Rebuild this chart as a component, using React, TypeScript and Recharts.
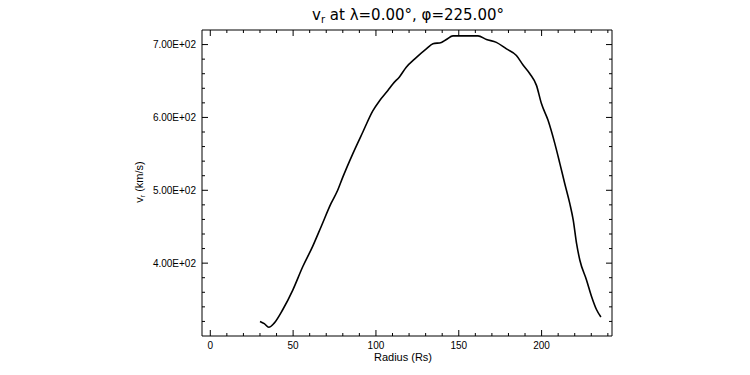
import { LineChart, Line, XAxis, YAxis } from 'recharts'

// radius (Rs) and radial speed (km/s)
const radius = [
  30, 32.6, 35.3, 38.7, 43.7, 49.8, 55.8, 61.8, 66.9, 72.9, 76.9, 80, 86, 92.1, 98.1,
  102.2, 107.2, 110.2, 114.3, 118.3, 123.3, 130.4, 134.4, 139.5, 142.5, 146.5, 161.6,
  166.7, 172.7, 178.8, 184.8, 188.8, 192.9, 196.9, 199.9, 203.9, 208, 211, 214, 217,
  219.1, 221.1, 223.1, 227.1, 230.2, 233.2, 235.8,
]
const vr = [
  320, 317, 312, 318, 336, 363, 395, 423, 450, 482, 500, 518, 550, 580, 609,
  623, 637, 646, 656, 669, 680, 694, 701, 703, 707, 712, 712,
  707, 703, 694, 685, 672, 660, 644, 619, 596, 564, 537, 509, 482,
  459, 427, 404, 377, 354, 336, 326,
]

const xTicks = [0, 10, 20, 30, 40, 50, 60, 70, 80, 90, 100, 110, 120, 130, 140, 150, 160, 170, 180, 190, 200, 210, 220, 230, 240]
const yTicks = [320, 340, 360, 380, 400, 420, 440, 460, 480, 500, 520, 540, 560, 580, 600, 620, 640, 660, 680, 700]

const data = radius.map((r, i) => ({ r, v: vr[i] }))

const tickFont = { fontFamily: '"Liberation Sans", Arial, sans-serif', fontSize: 10, fill: '#000' }

const fmtY = (v: number) => `${(v / 100).toFixed(2)}E+02`

function BottomTick({ x, y, payload }: any) {
  const major = payload.value % 50 === 0
  return (
    <g>
      <line x1={x} y1={y} x2={x} y2={y - (major ? 6 : 3)} stroke="#000" />
      {major && (
        <text x={x} y={y + 13} textAnchor="middle" {...tickFont}>
          {payload.value}
        </text>
      )}
    </g>
  )
}

function TopTick({ x, y, payload }: any) {
  const major = payload.value % 50 === 0
  return <line x1={x} y1={y} x2={x} y2={y + (major ? 6 : 3)} stroke="#000" />
}

function LeftTick({ x, y, payload }: any) {
  const major = payload.value % 100 === 0
  return (
    <g>
      <line x1={x} y1={y} x2={x + (major ? 6 : 3)} y2={y} stroke="#000" />
      {major && (
        <text x={x - 6} y={y + 3.5} textAnchor="end" {...tickFont}>
          {fmtY(payload.value)}
        </text>
      )}
    </g>
  )
}

function RightTick({ x, y, payload }: any) {
  const major = payload.value % 100 === 0
  return <line x1={x} y1={y} x2={x - (major ? 6 : 3)} y2={y} stroke="#000" />
}

export default function App() {
  return (
    <div style={{ position: 'absolute', left: 0, top: 0, width: 750, height: 375, background: '#fff' }}>
      <LineChart width={750} height={375} data={data} margin={{ top: 29, right: 137, bottom: 9, left: 0 }}>
        <XAxis
          xAxisId="b"
          dataKey="r"
          type="number"
          domain={[-5, 242.5]}
          ticks={xTicks}
          interval={0}
          height={30}
          tickSize={0}
          tickMargin={0}
          tickLine={false}
          axisLine={{ stroke: '#000' }}
          tick={<BottomTick />}
          allowDataOverflow
        />
        <XAxis
          xAxisId="t"
          orientation="top"
          dataKey="r"
          type="number"
          domain={[-5, 242.5]}
          ticks={xTicks}
          interval={0}
          height={1}
          tickSize={0}
          tickMargin={0}
          tickLine={false}
          axisLine={{ stroke: '#000' }}
          tick={<TopTick />}
          allowDataOverflow
        />
        <YAxis
          yAxisId="l"
          type="number"
          domain={[300, 720]}
          ticks={yTicks}
          interval={0}
          width={202}
          tickSize={0}
          tickMargin={0}
          tickLine={false}
          axisLine={{ stroke: '#000' }}
          tick={<LeftTick />}
          allowDataOverflow
        />
        <YAxis
          yAxisId="rt"
          orientation="right"
          type="number"
          domain={[300, 720]}
          ticks={yTicks}
          interval={0}
          width={1}
          tickSize={0}
          tickMargin={0}
          tickLine={false}
          axisLine={{ stroke: '#000' }}
          tick={<RightTick />}
          allowDataOverflow
        />
        <Line
          xAxisId="t"
          yAxisId="rt"
          dataKey="v"
          stroke="none"
          dot={false}
          activeDot={false}
          isAnimationActive={false}
        />
        <Line
          xAxisId="b"
          yAxisId="l"
          type="monotone"
          dataKey="v"
          stroke="#000"
          strokeWidth={1.6}
          dot={false}
          isAnimationActive={false}
        />
      </LineChart>
      <svg width={750} height={375} style={{ position: 'absolute', left: 0, top: 0, pointerEvents: 'none' }}>
        <text x={408} y={20} textAnchor="middle" fontFamily='"DejaVu Sans", sans-serif' fontSize={15} fill="#000">
          v<tspan fontSize={10} dy={3}>r</tspan>
          <tspan dy={-3}> at λ=0.00°,  φ=225.00°</tspan>
        </text>
        <text x={403} y={361} textAnchor="middle" {...tickFont} fontSize={11}>
          Radius (Rs)
        </text>
        <text
          x={143}
          y={182}
          textAnchor="middle"
          transform="rotate(-90 143 182)"
          {...tickFont}
          fontSize={11}
        >
          v<tspan fontSize={7} dy={2}>r</tspan>
          <tspan dy={-2}> (km/s)</tspan>
        </text>
      </svg>
    </div>
  )
}
